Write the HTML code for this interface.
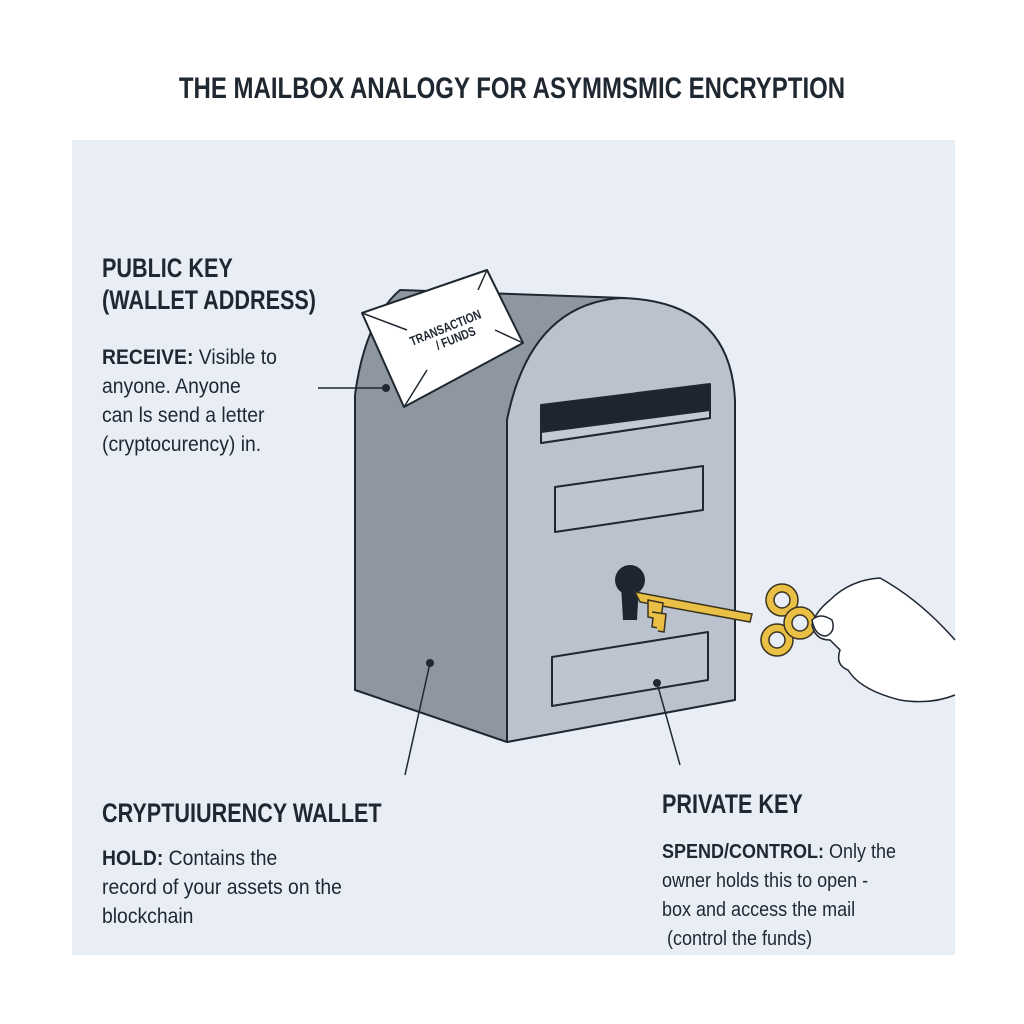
<!DOCTYPE html>
<html><head><meta charset="utf-8"><style>
html,body{margin:0;padding:0;background:#fff;}
body{width:1024px;height:1024px;position:relative;overflow:hidden;font-family:"Liberation Sans",sans-serif;color:#1f2731;}
.panel{position:absolute;left:72px;top:140px;width:883px;height:815px;background:#e9eef6;}
.t{position:absolute;white-space:nowrap;transform-origin:0 0;}
h1{position:absolute;left:0;width:1024px;top:72px;margin:0;text-align:center;font-size:30px;font-weight:bold;transform:scaleX(0.8);transform-origin:512px 0;}
.hd{font-size:27px;font-weight:bold;line-height:32px;transform:scaleX(0.8);}
.bd{font-size:21.5px;line-height:29px;transform:scaleX(0.9);}
.bd2{font-size:20px;line-height:29px;transform:scaleX(0.9);}
</style></head><body>
<h1>THE MAILBOX ANALOGY FOR ASYMMSMIC ENCRYPTION</h1>
<div class="panel"></div>
<svg width="1024" height="1024" style="position:absolute;left:0;top:0">
<g stroke="#1f2731" stroke-width="2" stroke-linejoin="round">
<path d="M355,690 L355,395 Q365,320 400,290 L625,298 Q540,320 507,420 L507,742 Z" fill="#8e969f"/>
<path d="M507,742 L507,420 Q530,305 620,298 Q730,300 735,400 L735,700 Z" fill="#b9c2cd"/>
<path d="M541,405 L710,384 L710,418 L541,443 Z" fill="#1c2530"/>
<path d="M541,432 L710,410 L710,418 L541,443 Z" fill="#c2cad4"/>
<path d="M555,487 L703,466 L703,510 L555,532 Z" fill="#bcc5d0"/>
<path d="M552,657 L708,632 L708,680 L552,706 Z" fill="#bcc5d0"/>
<path d="M362,313 L487,270 L523,343 L404,407 Z" fill="#fff"/>
<path d="M362,313 L407,330 M487,270 L478,290 M404,407 L427,370 M523,343 L495,330" fill="none" stroke-width="1.5"/>
</g>
<text transform="translate(412,346) rotate(-22) scale(0.8,1)" font-family="Liberation Sans, sans-serif" font-size="13" fill="#1f2731" font-weight="bold">TRANSACTION</text>
<text transform="translate(438,350) rotate(-22) scale(0.8,1)" font-family="Liberation Sans, sans-serif" font-size="13" fill="#1f2731" font-weight="bold">/ FUNDS</text>
<circle cx="630" cy="580" r="15" fill="#1c2530"/>
<path d="M621,585 L639,585 L637,620 L623,620 Z" fill="#1c2530"/>
<g stroke="#3a3320" stroke-width="1.5" fill="#eabf45">
<path d="M635,592 L752,614 L750,622 L640,602 Z"/>
<path d="M648,600 L663,603 L660,628 L652,627 L653,618 L648,617 Z"/>
<path d="M652,612 L666,614 L664,632 L658,631" />
<circle cx="782" cy="600" r="16"/><circle cx="782" cy="600" r="8" fill="#e9eef6"/>
<circle cx="777" cy="640" r="16"/><circle cx="777" cy="640" r="8" fill="#e9eef6"/>
<circle cx="800" cy="623" r="16"/><circle cx="800" cy="623" r="8" fill="#e9eef6"/>
</g>
<path d="M955,640 Q920,600 880,578 Q850,580 830,600 Q815,612 812,625 Q815,640 830,640 L840,650 Q835,665 848,670 Q860,690 900,700 Q930,705 955,695" fill="#fff" stroke="#1f2731" stroke-width="1.5"/>
<path d="M812,620 Q820,612 832,620 Q836,632 826,636 Q815,636 812,620 Z" fill="#fff" stroke="#1f2731" stroke-width="1.5"/>
<g stroke="#1f2731" stroke-width="1.5">
<line x1="318" y1="388" x2="385" y2="388"/>
<line x1="405" y1="775" x2="430" y2="663"/>
<line x1="680" y1="765" x2="657" y2="683"/>
</g>
<g fill="#1f2731"><circle cx="386" cy="388" r="4"/><circle cx="430" cy="663" r="4"/><circle cx="657" cy="683" r="4"/></g>
</svg>
<div class="t hd" style="left:102px;top:252px">PUBLIC KEY<br>(WALLET ADDRESS)</div>
<div class="t bd" style="left:102px;top:343px"><b>RECEIVE:</b> Visible to<br>anyone. Anyone<br>can ls send a letter<br>(cryptocurency) in.</div>
<div class="t hd" style="left:102px;top:797px">CRYPTUIURENCY WALLET</div>
<div class="t bd" style="left:102px;top:844px"><b>HOLD:</b> Contains the<br>record of your assets on the<br>blockchain</div>
<div class="t hd" style="left:662px;top:788px">PRIVATE KEY</div>
<div class="t bd2" style="left:662px;top:838px"><b>SPEND/CONTROL:</b> Only the<br>owner holds this to open -<br>box and access the mail<br>&nbsp;(control the funds)</div>
</body></html>
